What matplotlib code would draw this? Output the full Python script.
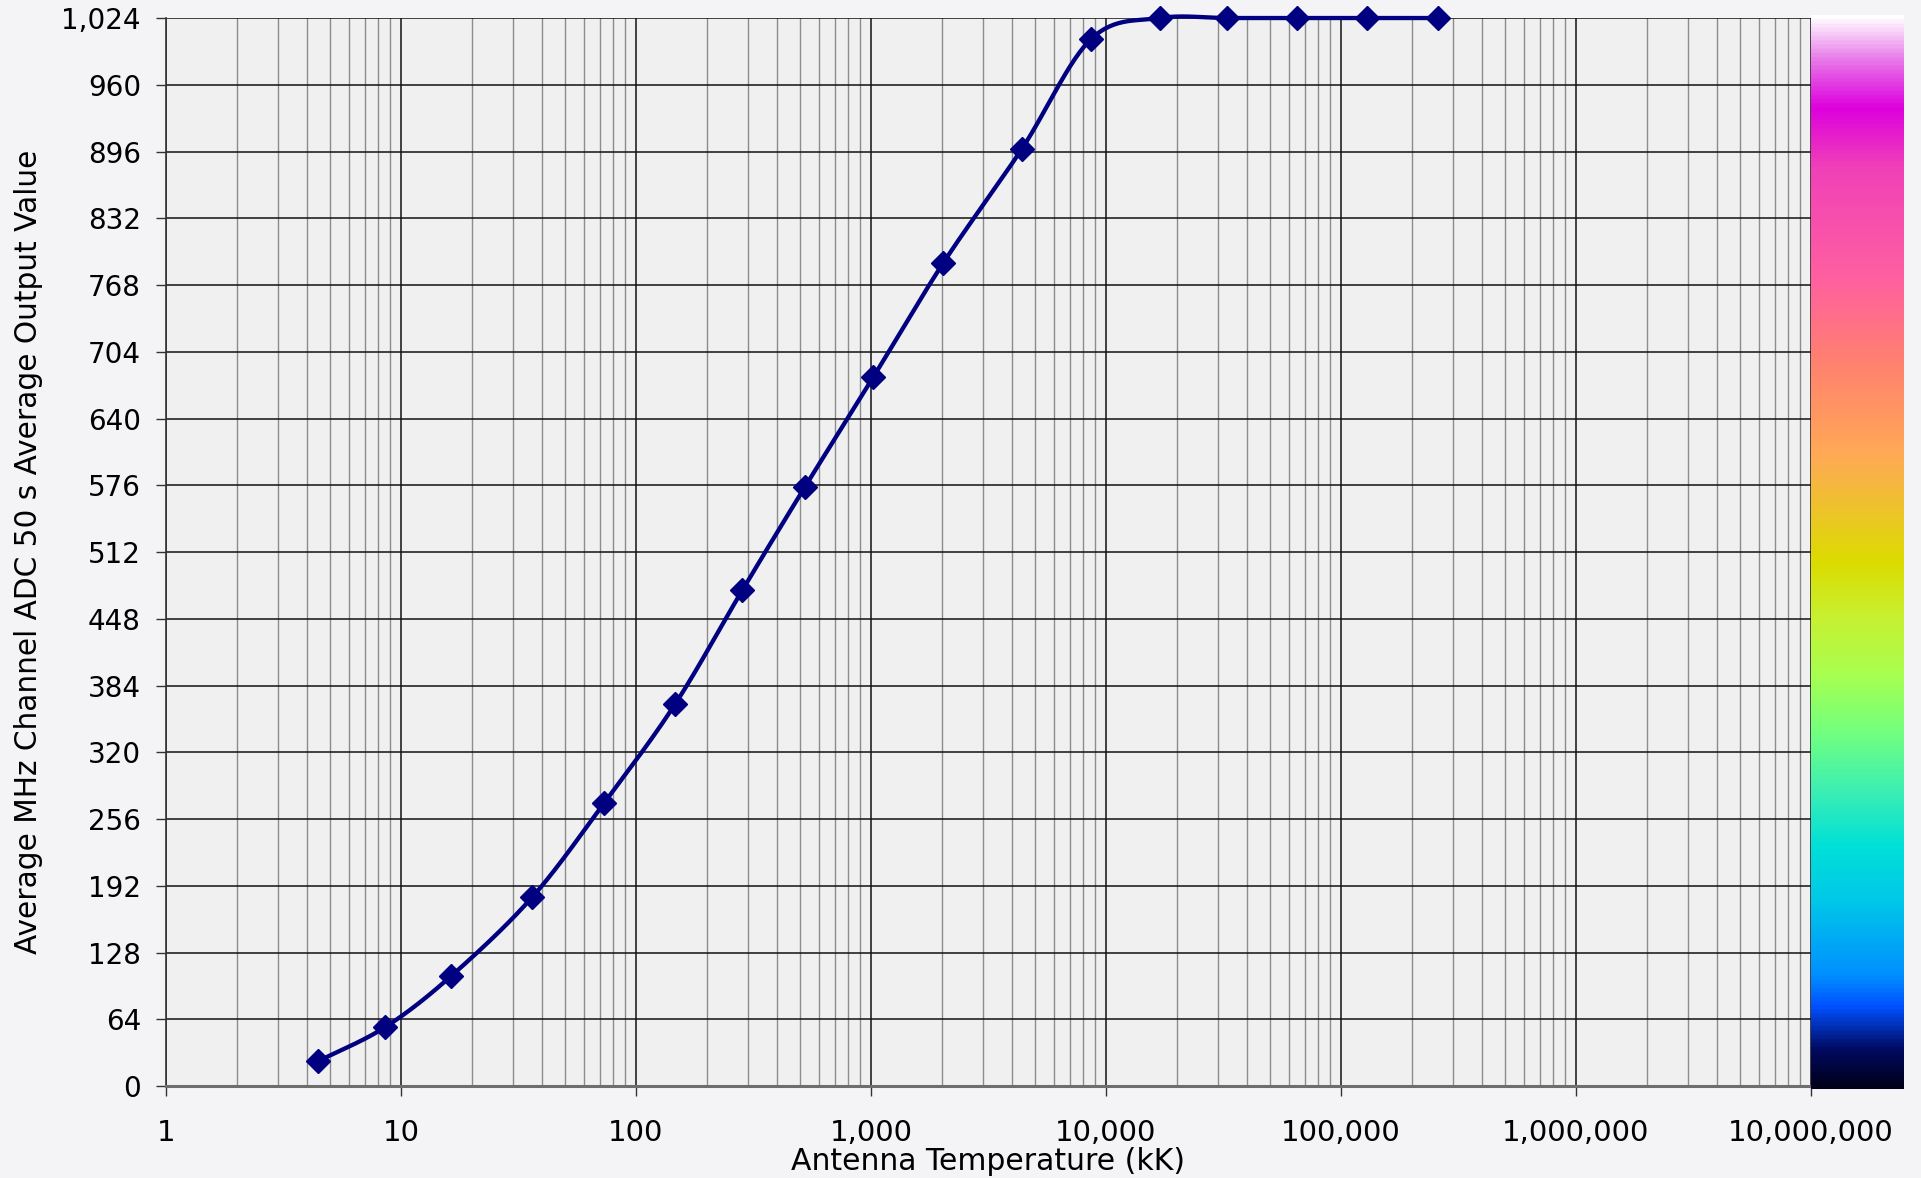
import numpy as np
import matplotlib.pyplot as plt
from matplotlib.colors import LinearSegmentedColormap
from matplotlib.ticker import FuncFormatter, LogLocator, FixedLocator

plt.rcParams['font.family'] = ['DejaVu Sans']

# 数据
temp_kk = [4.42, 8.56, 16.4, 36.1, 73.2, 147, 284, 523, 1024, 2029, 4372, 8660,
           16950, 32800, 64900, 128500, 257600]
adc_out = [23.5, 56.4, 105.7, 180.8, 271.3, 366.4, 475.6, 574.2, 679.9, 789, 898, 1004,
           1024, 1024, 1024, 1024, 1024]
y_ticks = list(range(0, 1025, 64))
x_ticks = [1, 10, 100, 1000, 10000, 100000, 1000000, 10000000]

# 色条颜色
cbar_pos = [0.0, 0.035, 0.075, 0.105, 0.175, 0.225, 0.28, 0.33, 0.385, 0.44, 0.49,
            0.59, 0.68, 0.755, 0.86, 0.915, 0.96, 1.0]
cbar_col = ['#000018', '#000a60', '#0050ff', '#0090ff', '#00c8e8', '#00e0d8', '#40f0b0',
            '#70ff80', '#a8ff50', '#c8f030', '#dcdc00', '#ffaa55', '#ff8070', '#ff60a0',
            '#f040b8', '#dd00dd', '#e878e8', '#ffffff']


def catmull_rom(x, y, n=30):
    # 平滑曲线（类似 Excel 平滑线）
    x = np.asarray(x, float)
    y = np.asarray(y, float)
    px = np.concatenate([[2 * x[0] - x[1]], x, [2 * x[-1] - x[-2]]])
    py = np.concatenate([[2 * y[0] - y[1]], y, [2 * y[-1] - y[-2]]])
    xs, ys = [], []
    t = np.linspace(0, 1, n, endpoint=False)
    for i in range(1, len(px) - 2):
        for p, out in ((px, xs), (py, ys)):
            p0, p1, p2, p3 = p[i - 1], p[i], p[i + 1], p[i + 2]
            out.append(0.5 * (2 * p1 + (-p0 + p2) * t + (2 * p0 - 5 * p1 + 4 * p2 - p3) * t ** 2
                              + (-p0 + 3 * p1 - 3 * p2 + p3) * t ** 3))
    xs = np.concatenate(xs + [[x[-1]]])
    ys = np.concatenate(ys + [[y[-1]]])
    return xs, ys


fig = plt.figure(figsize=(19.21, 11.78), dpi=100, facecolor='#f4f4f6')
ax = fig.add_axes([0.0864, 0.0781, 0.8563, 0.9066])
ax.set_facecolor('#f0f0f0')

lx, ly = catmull_rom(np.log10(temp_kk), adc_out)
ax.plot(10 ** lx, ly, color='#000080', lw=3.1, zorder=3, clip_on=False)
ax.plot(temp_kk, adc_out, ls='none', marker='D', ms=12, color='#000080', zorder=4, clip_on=False)

ax.set_xscale('log')
ax.set_xlim(1, 1e7)
ax.set_ylim(0, 1024)
ax.set_yticks(y_ticks)
ax.xaxis.set_major_locator(FixedLocator(x_ticks))
ax.xaxis.set_minor_locator(LogLocator(base=10, subs=np.arange(2, 10), numticks=100))
fmt = FuncFormatter(lambda v, p: f'{int(round(v)):,}')
ax.xaxis.set_major_formatter(fmt)
ax.yaxis.set_major_formatter(fmt)

ax.grid(True, which='major', axis='both', color='#111111', lw=1.1)
ax.grid(True, which='minor', axis='x', color='#8c8c8c', lw=1.0)
ax.set_axisbelow(True)

ax.tick_params(axis='y', which='major', length=7, width=1, color='#333333', pad=11, labelsize=20)
ax.tick_params(axis='x', which='major', length=7, width=1, color='#333333', pad=17, labelsize=21)
ax.tick_params(axis='x', which='minor', length=0)

for s in ['top', 'right']:
    ax.spines[s].set_visible(False)
ax.spines['left'].set_color('#333333')
ax.spines['left'].set_linewidth(1.2)
ax.spines['bottom'].set_color('#6e6e6e')
ax.spines['bottom'].set_linewidth(2.2)

ax.set_xlabel('Antenna Temperature (kK)', fontsize=21.5, labelpad=0)
ax.set_ylabel('Average MHz Channel ADC 50 s Average Output Value', fontsize=21.3, labelpad=13)

# 右侧色条
cmap = LinearSegmentedColormap.from_list('bar', list(zip(cbar_pos, cbar_col)))
cax = fig.add_axes([0.9427, 0.0755, 0.0479, 0.9115])
cax.imshow(np.linspace(1, 0, 512).reshape(-1, 1), aspect='auto', cmap=cmap,
           extent=[0, 1, 0, 1])
cax.set_axis_off()

fig.savefig('out.png', dpi=100, facecolor=fig.get_facecolor())
